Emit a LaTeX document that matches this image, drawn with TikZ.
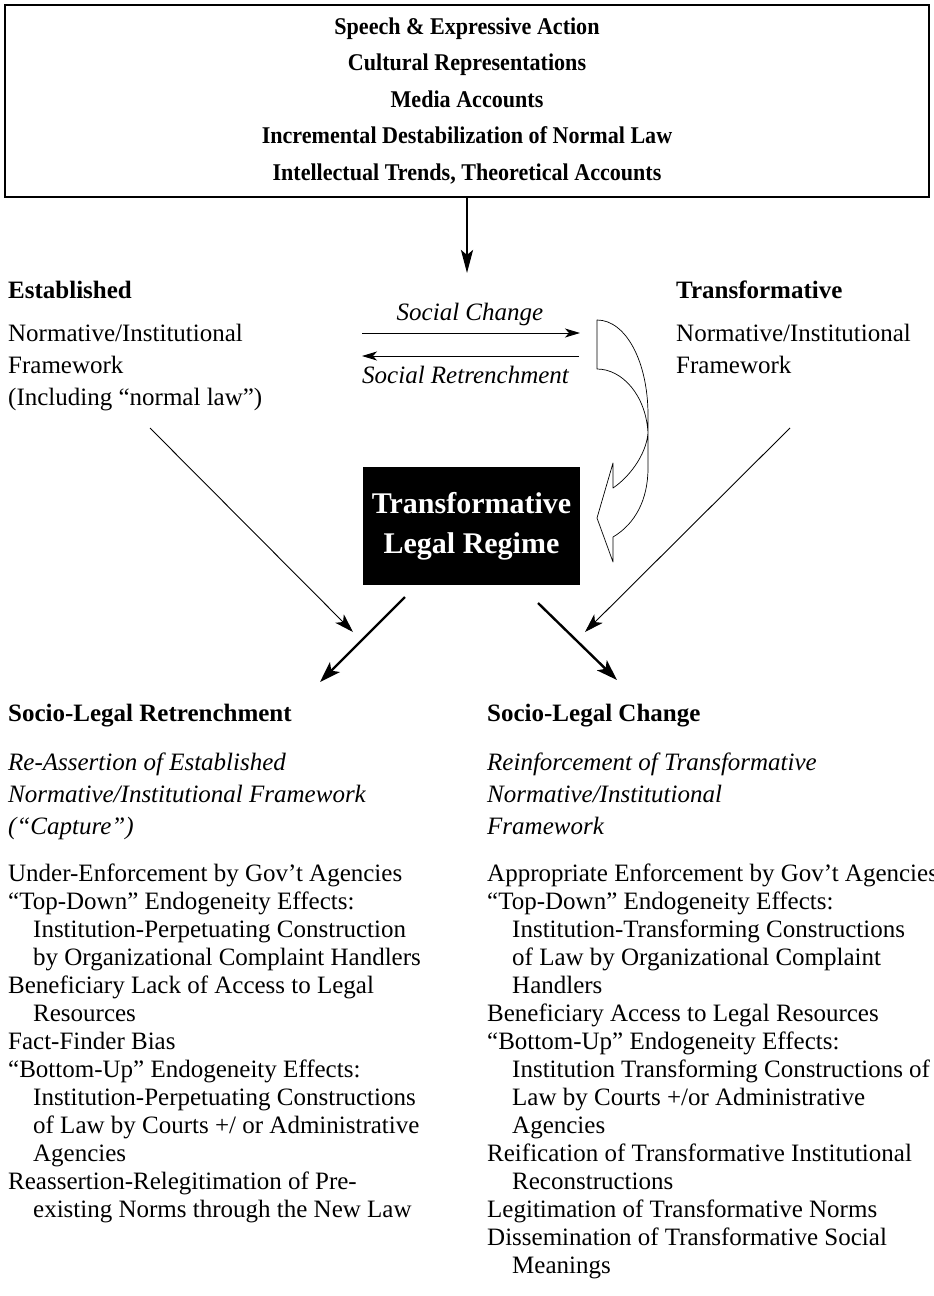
\documentclass[tikz,border=0pt]{standalone}
\usepackage{fontspec}
\setmainfont{Liberation Serif}
\newfontfamily\boxfont[FakeStretch=0.92]{Liberation Serif}
\usepackage{tikz}
\usetikzlibrary{positioning, arrows.meta}
\tikzset{
  txt/.style={inner sep=0pt, font=\fontsize{25}{28}\selectfont},
  head/.style={txt, anchor=base west, font=\bfseries\fontsize{25}{28}\selectfont},
  para/.style={txt, anchor=north west, align=left, font=\fontsize{25}{32}\selectfont},
  listing/.style={txt, anchor=north west, align=left},
  lightarrow/.style={->, line width=0.9pt, >={Stealth[length=19pt,width=12pt,inset=5pt]}},
  heavyarrow/.style={->, line width=2.4pt, >={Stealth[length=21pt,width=14pt,inset=5pt]}},
  smallarrow/.style={->, line width=0.9pt, >={Stealth[length=15pt,width=9pt,inset=4pt]}}
}
\newcommand{\ind}{\hspace*{1em}}

\begin{document}
\begin{tikzpicture}[x=1pt, y=-1pt]
  \useasboundingbox (0,0) rectangle (934,1296);

  % sources of change
  \node[draw, line width=1.6pt, inner sep=0pt, minimum width=924pt, minimum height=192pt,
    align=center, font=\boxfont\bfseries\fontsize{24}{36.5}\selectfont] (sources) at (467,101)
    {Speech \& Expressive Action\\Cultural Representations\\Media Accounts\\
     Incremental Destabilization of Normal Law\\Intellectual Trends, Theoretical Accounts};
  \coordinate (drop) at (467,273);
  \draw[->, line width=2.6pt, >={Stealth[length=23pt,width=12pt,inset=5pt]}] (sources.south) -- (drop);

  % the two frameworks
  \node[head] (est) at (8,298) {Established};
  \node[para] (estfw) at (8,324) {Normative/Institutional\\Framework\\(Including “normal law”)};
  \node[head] (trf) at (676,298) {Transformative};
  \node[para] (trffw) at (676,324) {Normative/Institutional\\Framework};

  \coordinate (sc1) at (362,333);
  \coordinate (sc2) at (580,333);
  \coordinate (sr1) at (579,356);
  \coordinate (sr2) at (362,356);
  \draw[smallarrow] (sc1) -- (sc2);
  \draw[smallarrow] (sr1) -- (sr2);
  \node[txt, anchor=base, font=\itshape\fontsize{25}{28}\selectfont] (chg) at (470,320) {Social Change};
  \node[txt, anchor=base west, font=\itshape\fontsize{25}{28}\selectfont] (ret) at (362,383) {Social Retrenchment};

  % regime
  \node[fill=black, text=white, inner sep=0pt, minimum width=217pt, minimum height=118pt,
    align=center, font=\bfseries\fontsize{30}{40}\selectfont] (regime) at (471.5,526)
    {Transformative\\Legal Regime};

  % hollow bent arrow
  \draw[line width=0.7pt, line join=round]
    (597,320) .. controls (626,320) and (648,362) .. (648,415) -- (648,468)
    .. controls (648,500) and (635,524) .. (613,537) -- (613,562) -- (597,518)
    -- (613,463) -- (613,488) .. controls (628,478) and (646,456) .. (648,433)
    .. controls (646,395) and (622,369) .. (597,369) -- cycle;

  % arrows down to outcomes
  \coordinate (estFrom) at (150,428);
  \coordinate (estTo) at (353,632);
  \coordinate (trfFrom) at (790,428);
  \coordinate (trfTo) at (585,632);
  \coordinate (regL) at (405,597);
  \coordinate (regLTo) at (320,682);
  \coordinate (regR) at (538,603);
  \coordinate (regRTo) at (617,680);
  \draw[lightarrow] (estFrom) -- (estTo);
  \draw[lightarrow] (trfFrom) -- (trfTo);
  \draw[heavyarrow] (regL) -- (regLTo);
  \draw[heavyarrow] (regR) -- (regRTo);

  % retrenchment column
  \node[head] (slr) at (8,721) {Socio-Legal Retrenchment};
  \node[para, font=\itshape\fontsize{25}{32}\selectfont] (slrsub) at (8,753)
    {Re-Assertion of Established\\Normative/Institutional Framework\\(“Capture”)};
  \node[listing] (slrlist) at (8,864)
    {Under-Enforcement by Gov’t Agencies\\
     “Top-Down” Endogeneity Effects:\\
     \ind Institution-Perpetuating Construction\\
     \ind by Organizational Complaint Handlers\\
     Beneficiary Lack of Access to Legal\\
     \ind Resources\\
     Fact-Finder Bias\\
     “Bottom-Up” Endogeneity Effects:\\
     \ind Institution-Perpetuating Constructions\\
     \ind of Law by Courts +/ or Administrative\\
     \ind Agencies\\
     Reassertion-Relegitimation of Pre-\\
     \ind existing Norms through the New Law};

  % change column
  \node[head] (slc) at (487,721) {Socio-Legal Change};
  \node[para, font=\itshape\fontsize{25}{32}\selectfont] (slcsub) at (487,753)
    {Reinforcement of Transformative\\Normative/Institutional\\Framework};
  \node[listing] (slclist) at (487,864)
    {Appropriate Enforcement by Gov’t Agencies\\
     “Top-Down” Endogeneity Effects:\\
     \ind Institution-Transforming Constructions\\
     \ind of Law by Organizational Complaint\\
     \ind Handlers\\
     Beneficiary Access to Legal Resources\\
     “Bottom-Up” Endogeneity Effects:\\
     \ind Institution Transforming Constructions of\\
     \ind Law by Courts +/or Administrative\\
     \ind Agencies\\
     Reification of Transformative Institutional\\
     \ind Reconstructions\\
     Legitimation of Transformative Norms\\
     Dissemination of Transformative Social\\
     \ind Meanings};
\end{tikzpicture}
\end{document}
